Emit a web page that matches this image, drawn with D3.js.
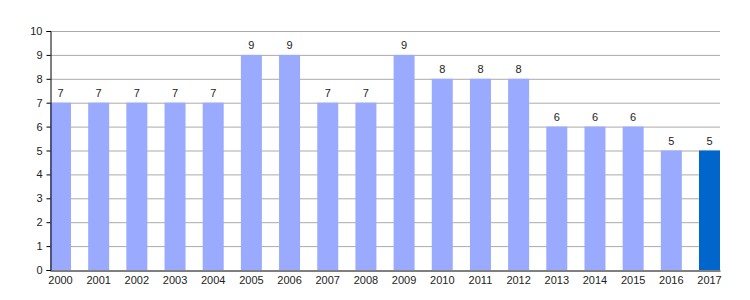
<!DOCTYPE html>
<html lang="en">
<head>
  <meta charset="UTF-8">
  <title>Bar chart 2000-2017</title>
  <script src="https://d3js.org/d3.v7.min.js"></script>
  <style>
    body, html {
      margin: 0;
      padding: 0;
      background: #fff;
    }
  </style>
</head>
<body>
  <svg id="svg" width="750" height="300"></svg>
  <script>
    const years = ["2000", "2001", "2002", "2003", "2004", "2005", "2006", "2007", "2008",
      "2009", "2010", "2011", "2012", "2013", "2014", "2015", "2016", "2017"]
    const values = [7, 7, 7, 7, 7, 9, 9, 7, 7, 9, 8, 8, 8, 6, 6, 6, 5, 5]
    const yTicks = [0, 1, 2, 3, 4, 5, 6, 7, 8, 9, 10]
    const highlightYear = "2017"

    const svg = d3.select("svg")
    const plotLeft = 50, plotRight = 720, plotTop = 31, plotBottom = 270

    const x = d3.scaleBand()
      .domain(years)
      .range([plotLeft, plotRight])
      .paddingInner(0.45)
      .paddingOuter(0)

    const y = d3.scaleLinear()
      .domain([0, 10])
      .range([plotBottom, plotTop])

    // grid lines
    svg.append("g")
      .selectAll("line")
      .data(yTicks.filter(d => d > 0))
      .enter()
      .append("line")
      .attr("x1", plotLeft)
      .attr("x2", plotRight)
      .attr("y1", d => y(d) + 0.5)
      .attr("y2", d => y(d) + 0.5)
      .attr("stroke", "#aaaaaa")
      .attr("stroke-width", 1)

    // bars
    svg.append("g")
      .selectAll("rect")
      .data(years)
      .enter()
      .append("rect")
      .attr("x", d => x(d))
      .attr("width", x.bandwidth())
      .attr("y", (d, i) => y(values[i]))
      .attr("height", (d, i) => y(0) - y(values[i]))
      .attr("fill", d => d === highlightYear ? "#0066cc" : "#99aaff")

    // value labels
    svg.append("g")
      .selectAll("text")
      .data(years)
      .enter()
      .append("text")
      .text((d, i) => values[i])
      .attr("x", d => x(d) + x.bandwidth() / 2)
      .attr("y", (d, i) => y(values[i]) - 6)
      .attr("text-anchor", "middle")
      .attr("font-family", "Liberation Sans, Arial, sans-serif")
      .attr("font-size", "11px")
      .attr("fill", "#222")

    // axes
    const yAxis = d3.axisLeft(y).tickValues(yTicks).tickSize(4).tickPadding(4)
    const gy = svg.append("g")
      .attr("transform", `translate(${plotLeft + 0.5},0)`)
      .call(yAxis)
    gy.selectAll("text")
      .attr("font-family", "Liberation Sans, Arial, sans-serif")
      .attr("font-size", "11px")
      .attr("fill", "#222")
    gy.select(".domain").attr("stroke", "#000")

    const xAxis = d3.axisBottom(x).tickSize(0).tickPadding(6)
    const gx = svg.append("g")
      .attr("transform", `translate(0,${plotBottom + 0.5})`)
      .call(xAxis)
    gx.selectAll("text")
      .attr("font-family", "Liberation Sans, Arial, sans-serif")
      .attr("font-size", "11px")
      .attr("fill", "#222")
    gx.select(".domain").attr("stroke", "#000")
  </script>
</body>
</html>
